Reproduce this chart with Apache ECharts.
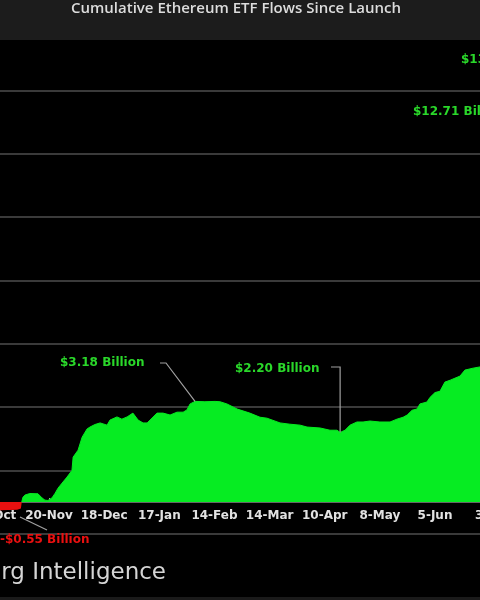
<!DOCTYPE html>
<html>
<head>
<meta charset="utf-8">
<script src="https://cdn.jsdelivr.net/npm/echarts@6/dist/echarts.min.js"></script>
<style>
html,body{margin:0;padding:0;background:#000;}
#c{width:480px;height:600px;}
</style>
</head>
<body>
<div id="c"></div>
<script>
// x = trading-day number counted from 24-Oct (ticks every 19 trading days)
const tickLabels = ['24-Oct','20-Nov','18-Dec','17-Jan','14-Feb','14-Mar','10-Apr','8-May','5-Jun','3-Jul','31-Jul'];

// Negative (outflow) stretch, $ billions
const negDay = [0, 2, 5, 8, 9.3, 9.6];
const negFlow = [-0.3, -0.26, -0.25, -0.24, -0.2, 0];

// Positive stretch, $ billions
const posDay = [9.6, 10, 10.7, 12.4, 15.2, 16.6, 17.6, 18.6, 20, 21.1, 22.1, 23.5, 25.2, 26.9, 27.3, 29, 30.4, 32.1, 33.1, 34.8,
  36.6, 39, 40, 42.4, 44.1, 45.9, 47.9, 49.7, 51.4, 52.8, 53.8, 56.2, 58.3, 60.7, 63.1, 65.2, 66.5, 67.6, 69.3, 72.7,
  76.2, 77.9, 80.3, 83.8, 88.2, 91.7, 94.1, 98.6, 102, 105.5, 107.9, 112.4, 115.8, 118.2, 119.3, 121, 122.7, 125.1, 127.2, 129.6,
  133, 136.5, 138.9, 141, 142.4, 144.1, 145.8, 146.8, 149.2, 150.3, 152, 153.7, 155.4, 157.2, 160.6, 162.3, 165.1, 167.5, 170.9, 174.4,
  177.8, 181.3, 184.7, 188.2, 190];
const posFlow = [0, 0.15, 0.22, 0.27, 0.26, 0.13, 0.06, 0.05, 0.13, 0.28, 0.44, 0.6, 0.79, 1.0, 1.42, 1.64, 2.05, 2.31, 2.37, 2.45,
  2.5, 2.43, 2.59, 2.69, 2.62, 2.69, 2.81, 2.59, 2.5, 2.5, 2.59, 2.81, 2.81, 2.75, 2.84, 2.84, 2.91, 3.1, 3.18, 3.17,
  3.18, 3.17, 3.1, 2.94, 2.81, 2.68, 2.65, 2.5, 2.46, 2.43, 2.37, 2.34, 2.27, 2.27, 2.2, 2.27, 2.43, 2.53, 2.53, 2.56,
  2.53, 2.53, 2.62, 2.68, 2.75, 2.9, 2.94, 3.1, 3.16, 3.31, 3.46, 3.5, 3.79, 3.85, 3.98, 4.17, 4.23, 4.27, 4.5, 5.5,
  8, 11, 12.71, 13.68, 13.68];

// Annotations: text and the data point they refer to
const noteText = ['$3.18 Billion', '$2.20 Billion'];
const noteDay = [69.3, 119.3];
const noteFlow = [3.18, 2.2];

const GREEN = '#06ec22';
const RED = '#ea1010';
const LABEL_GREEN = '#2ad82a';

const Y_MIN = -1, Y_MAX = 14.6, GRID_H = 493.7;

const chart = echarts.init(document.getElementById('c'), null, {renderer: 'canvas'});

const option = {
  backgroundColor: '#000',
  animation: false,
  grid: {left: -6.1, width: 551.4, top: 40, height: GRID_H, containLabel: false, outerBoundsMode: 'none'},
  xAxis: {
    type: 'value', min: 0, max: 190, interval: 19, position: 'bottom',
    // place the date axis at the zero level
    offset: -GRID_H * (0 - Y_MIN) / (Y_MAX - Y_MIN),
    axisLine: {show: true, onZero: false, lineStyle: {color: '#666', width: 1}},
    axisTick: {show: true, inside: true, length: 4, lineStyle: {color: '#aaa'}},
    splitLine: {show: false},
    axisLabel: {
      color: '#e2e2e2', fontFamily: 'DejaVu Sans', fontWeight: 'bold', fontSize: 12, margin: 8,
      showMinLabel: true, showMaxLabel: true, hideOverlap: false,
      formatter: v => tickLabels[Math.round(v / 19)] || ''
    }
  },
  yAxis: [
    {type: 'value', min: Y_MIN, max: Y_MAX, show: false, splitLine: {show: false}},
    // helper axis shifted by +1 so its gridlines fall on -1, 1, 3, ... 13
    {type: 'value', min: 0, max: Y_MAX - Y_MIN, interval: 2, show: true,
      axisLine: {show: false}, axisTick: {show: false}, axisLabel: {show: false},
      splitLine: {show: true, showMaxLine: false, showMinLine: true, lineStyle: {color: '#3a3a3a', width: 2}}}
  ],
  series: [
    {type: 'line', yAxisIndex: 0, symbol: 'none', z: 3,
      data: negDay.map((d, i) => [d, negFlow[i]]),
      lineStyle: {width: 0, color: RED}, areaStyle: {color: RED, opacity: 1}},
    {type: 'line', yAxisIndex: 0, symbol: 'none', z: 3,
      data: posDay.map((d, i) => [d, posFlow[i]]),
      lineStyle: {width: 1, color: GREEN}, areaStyle: {color: GREEN, opacity: 1}}
  ]
};
chart.setOption(option);

const p1 = chart.convertToPixel({xAxisIndex: 0, yAxisIndex: 0}, [noteDay[0], noteFlow[0]]);
const p2 = chart.convertToPixel({xAxisIndex: 0, yAxisIndex: 0}, [noteDay[1], noteFlow[1]]);

const lineStyle = {stroke: '#a0a0a0', lineWidth: 1.2, fill: null};
const noteFont = 'bold 12px "DejaVu Sans"';

chart.setOption({
  graphic: [
    {type: 'rect', shape: {x: 0, y: 0, width: 480, height: 40}, style: {fill: '#1c1c1c'}, z: 10},
    {type: 'text', x: 236, y: 9, z: 11, style: {text: 'Cumulative Ethereum ETF Flows Since Launch', fill: '#dcdcdc',
      font: '600 15px "Open Sans"', textAlign: 'center', textVerticalAlign: 'middle'}},
    {type: 'text', x: 60, y: 363, z: 11, style: {text: noteText[0], fill: LABEL_GREEN, font: noteFont, textVerticalAlign: 'middle'}},
    {type: 'polyline', z: 11, shape: {points: [[160, 363], [166, 363], p1]}, style: lineStyle},
    {type: 'text', x: 235, y: 369, z: 11, style: {text: noteText[1], fill: LABEL_GREEN, font: noteFont, textVerticalAlign: 'middle'}},
    {type: 'polyline', z: 11, shape: {points: [[331, 367], [p2[0], 367], p2]}, style: lineStyle},
    {type: 'text', x: 413, y: 112, z: 11, style: {text: '$12.71 Billion', fill: LABEL_GREEN, font: noteFont, textVerticalAlign: 'middle'}},
    {type: 'text', x: 461, y: 60, z: 11, style: {text: '$13.68 Billion', fill: LABEL_GREEN, font: noteFont, textVerticalAlign: 'middle'}},
    {type: 'text', x: 0, y: 540, z: 11, style: {text: '-$0.55 Billion', fill: RED, font: noteFont, textVerticalAlign: 'middle'}},
    {type: 'polyline', z: 11, shape: {points: [[20, 517], [47, 530]]}, style: lineStyle},
    {type: 'text', x: 166, y: 573, z: 11, style: {text: 'Bloomberg Intelligence', fill: '#d5d5d5',
      font: '23px "DejaVu Sans"', textAlign: 'right', textVerticalAlign: 'middle'}},
    {type: 'rect', shape: {x: 0, y: 597, width: 480, height: 3}, style: {fill: '#1a1a1a'}, z: 10}
  ]
});
</script>
</body>
</html>
